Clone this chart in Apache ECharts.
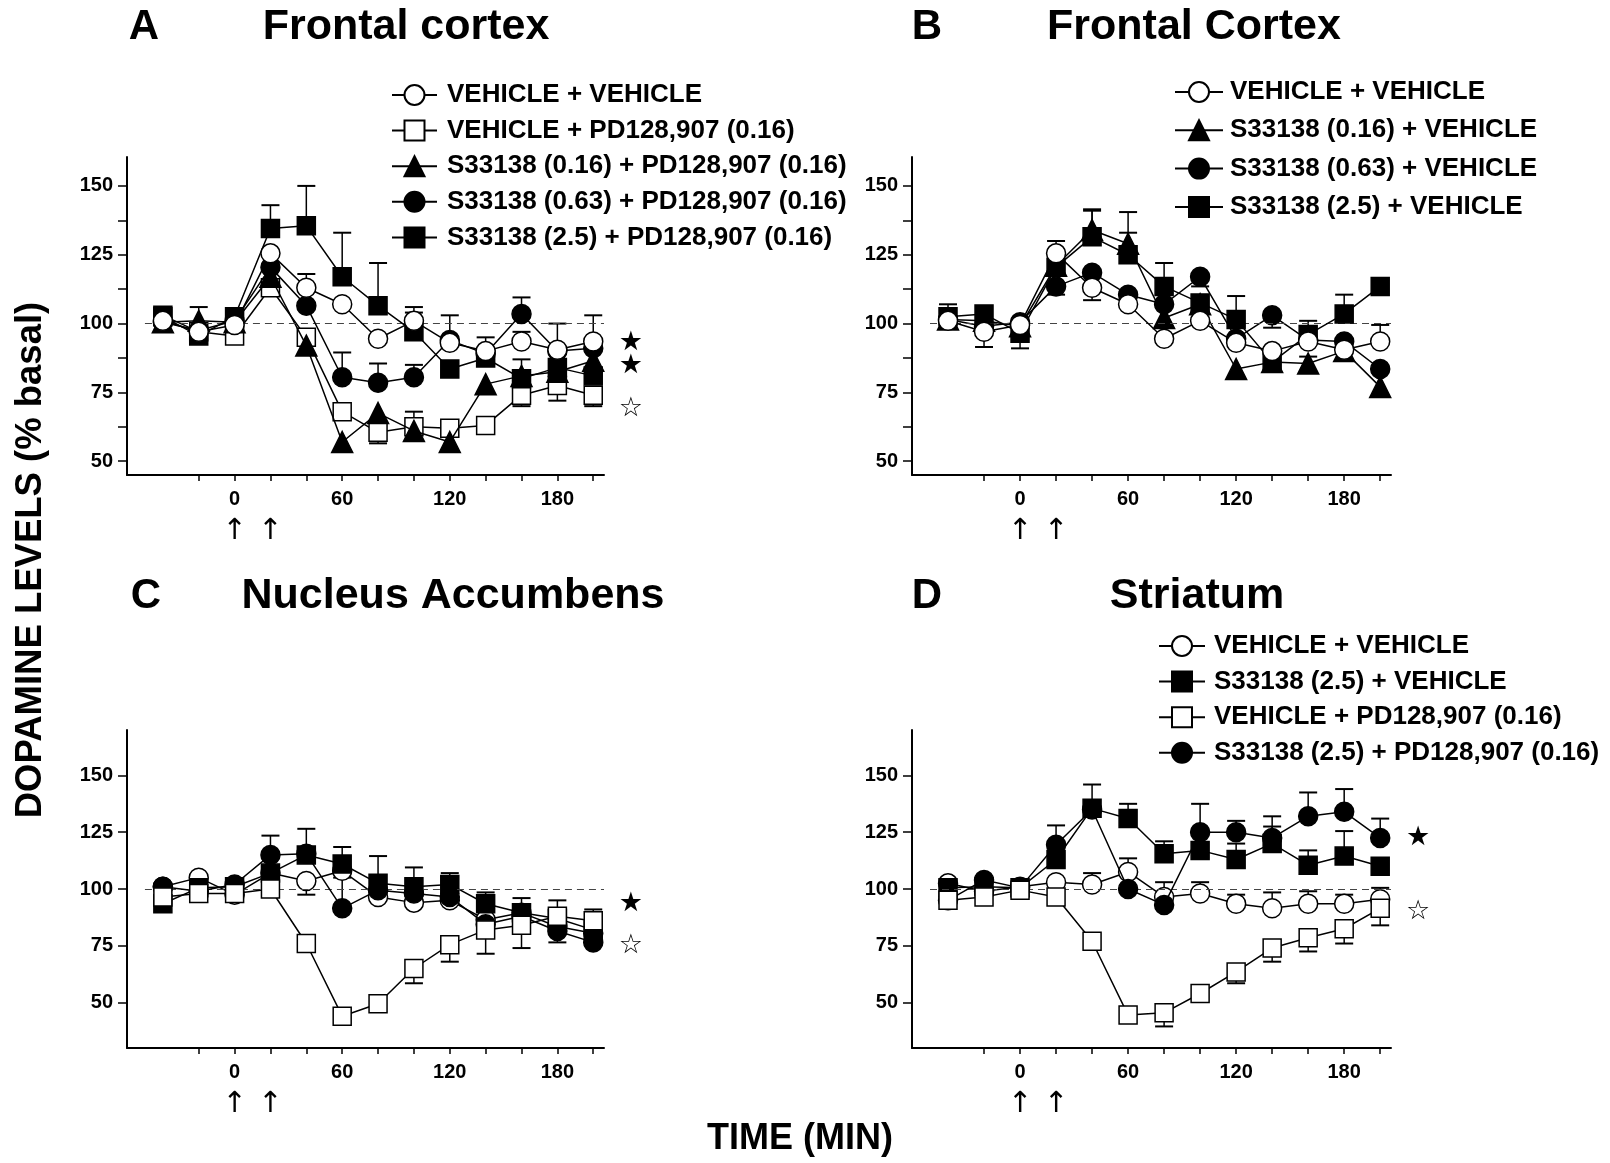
<!DOCTYPE html>
<html><head><meta charset="utf-8">
<script src="https://cdn.jsdelivr.net/npm/echarts@6/dist/echarts.min.js"></script>
<style>html,body{margin:0;padding:0;background:#fff}#c{width:1610px;height:1163px}</style>
</head><body><div id="c"></div>
<script>
// ---------- data ----------
const TIME = [-40, -20, 0, 20, 40, 60, 80, 100, 120, 140, 160, 180, 200];
const X_TICKS = [-20, 0, 20, 40, 60, 80, 100, 120, 140, 160, 180, 200];
const X_LABELS = [0, 60, 120, 180];
const Y_LABELS = [50, 75, 100, 125, 150];
const Y_TICKS_AB = [50, 62.5, 75, 87.5, 100, 112.5, 125, 137.5, 150];
const Y_TICKS_CD = [50, 75, 100, 125, 150];
const ARROW_TIMES = [0, 20];

const PANEL_TITLES = ['Frontal cortex', 'Frontal Cortex', 'Nucleus Accumbens', 'Striatum'];
const PANEL_LETTERS = ['A', 'B', 'C', 'D'];

const NAME_VV = 'VEHICLE + VEHICLE';
const NAME_VP = 'VEHICLE + PD128,907 (0.16)';
const NAME_S016_PD = 'S33138 (0.16) + PD128,907 (0.16)';
const NAME_S063_PD = 'S33138 (0.63) + PD128,907 (0.16)';
const NAME_S25_PD = 'S33138 (2.5) + PD128,907 (0.16)';
const NAME_S016_V = 'S33138 (0.16) + VEHICLE';
const NAME_S063_V = 'S33138 (0.63) + VEHICLE';
const NAME_S25_V = 'S33138 (2.5) + VEHICLE';

// Panel A
const A_VEH_VEH = [101, 97, 99.5, 125.5, 113, 107, 94.5, 101, 93, 90, 93.5, 90.5, 93.5];
const A_VEH_PD = [103, 97, 95.5, 113, 95, 68, 60.5, 62.5, 62, 63, 74, 77.5, 74];
const A_S016_PD = [100.5, 101, 100.5, 117, 92, 57, 67.5, 61, 57, 78, 81, 82.5, 86.5];
const A_S063_PD = [100.5, 97.5, 101, 120.5, 106.5, 80.5, 78.5, 80.5, 94, 89, 103.5, 90, 91];
const A_S25_PD = [102.5, 95.5, 102.5, 134.5, 135.5, 117, 106.5, 97, 83.5, 87.5, 80, 84, 81];
const A_VEH_VEH_ERR = [null, null, null, null, 118, null, null, 106, 103, 95, 97, 100, 103];
const A_VEH_PD_ERR = [null, null, null, null, null, null, 56.5, null, null, null, 70, 72, 70];
const A_S016_PD_ERR = [null, 106, null, null, null, null, null, 68, 64.5, null, 87, null, null];
const A_S063_PD_ERR = [null, null, null, null, null, 89.5, 85.5, 85, null, null, 109.5, null, null];
const A_S25_PD_ERR = [null, null, null, 143, 150, 133, 122, 104, null, null, null, null, null];

// Panel B
const B_VEH_VEH = [101, 97, 99.5, 125.5, 113, 107, 94.5, 101, 93, 90, 93.5, 90.5, 93.5];
const B_S016_VEH = [101.5, 101, 99, 121, 134, 129, 102, 107, 83.5, 86, 85.5, 90, 77];
const B_S063_VEH = [101.5, 99, 100.5, 113.5, 118.5, 110.5, 107, 117, 94.5, 103, 94, 93.5, 83.5];
const B_S25_VEH = [102.5, 103.5, 96.5, 120.5, 131.5, 125, 113.5, 107.5, 101.5, 86, 96, 103.5, 113.5];
const B_VEH_VEH_ERR = [null, 91.5, null, 130, 108.5, null, null, null, null, null, null, null, 99.5];
const B_S016_VEH_ERR = [null, null, null, null, 141.5, 140.5, null, null, null, null, 88, null, null];
const B_S063_VEH_ERR = [null, null, null, 110.5, null, null, null, 113.5, null, 98.5, null, null, null];
const B_S25_VEH_ERR = [107, null, 91, null, 141, 133, 122, null, 110, null, 101, 110.5, null];

// Panel C
const C_VEH_VEH = [101, 105, 97.5, 107, 103.5, 108, 96.5, 94, 95, 86.5, 89.5, 83.5, 80.5];
const C_S25_VEH = [93.5, 100.5, 101, 107, 115, 111, 102.5, 101, 102, 93.5, 89.5, 87, 82];
const C_VEH_PD = [96.5, 98, 98, 100, 76, 44, 49.5, 65, 75.5, 82, 84, 88, 86];
const C_S25_PD = [101, 99, 102, 115, 115.5, 91.5, 99.5, 98, 96.5, 84.5, 88, 81.5, 76.5];
const C_VEH_VEH_ERR = [null, null, null, null, 97.5, null, null, null, null, null, null, null, null];
const C_S25_VEH_ERR = [null, null, null, null, 126.5, 118.5, 114.5, 109.5, 107, 98.5, 96, 95, 91];
const C_VEH_PD_ERR = [null, null, null, null, null, null, null, 58.5, 68, 71.5, 74, null, null];
const C_S25_PD_ERR = [null, null, null, 123.5, null, 105, null, null, null, null, null, 76.5, null];

// Panel D
const D_VEH_VEH = [102.5, 99, 101, 103, 102, 107.5, 96.5, 98, 93.5, 91.5, 93.5, 93.5, 95.5];
const D_S25_VEH = [100.5, 101, 100.5, 113, 135.5, 131, 115.5, 117, 113, 120, 110.5, 114.5, 110];
const D_VEH_PD = [95, 96.5, 99.5, 96.5, 77, 44.5, 45.5, 54, 63.5, 74, 78.5, 82.5, 91.5];
const D_S25_PD = [95, 104, 100.5, 119.5, 135, 100, 93, 125, 125, 122.5, 132, 134, 122.5];
const D_VEH_VEH_ERR = [null, null, null, null, 107, 113.5, 103, 103, 97.5, 98.5, 99, 97.5, 100.5];
const D_S25_VEH_ERR = [null, null, null, null, 146, 137.5, 121, null, 120, 127.5, 117, 125.5, null];
const D_VEH_PD_ERR = [null, null, null, null, null, null, 39.5, null, 58.5, 68, 72.5, 76, 84];
const D_S25_PD_ERR = [null, null, null, 128, null, null, null, 137.5, 130, 132, 142.5, 144, 131];

// significance stars (annotation: [value level, filled?])
const STARS = [
  [[93, true], [84.5, true], [69, false]],
  [],
  [[93.5, true], [75, false]],
  [[122.5, true], [90, false]]
];

// ---------- style ----------
const FONT = "'Liberation Sans', Arial, Helvetica, sans-serif";
const MARK = {
  openCircle: { symbol: 'circle', fill: '#fff', size: 19 },
  fillCircle: { symbol: 'circle', fill: '#000', size: 19 },
  openSquare: { symbol: 'rect', fill: '#fff', size: 18 },
  fillSquare: { symbol: 'rect', fill: '#000', size: 18 },
  fillTri: { symbol: 'triangle', fill: '#000', size: 21 }
};

const P = [
  { yMin: 45, yMax: 160.5, yTicks: Y_TICKS_AB,
    legendNames: [NAME_VV, NAME_VP, NAME_S016_PD, NAME_S063_PD, NAME_S25_PD],
    series: [
      [NAME_VP, A_VEH_PD, A_VEH_PD_ERR, 'openSquare'],
      [NAME_S016_PD, A_S016_PD, A_S016_PD_ERR, 'fillTri'],
      [NAME_S063_PD, A_S063_PD, A_S063_PD_ERR, 'fillCircle'],
      [NAME_S25_PD, A_S25_PD, A_S25_PD_ERR, 'fillSquare'],
      [NAME_VV, A_VEH_VEH, A_VEH_VEH_ERR, 'openCircle']
    ]},
  { yMin: 45, yMax: 160.5, yTicks: Y_TICKS_AB,
    legendNames: [NAME_VV, NAME_S016_V, NAME_S063_V, NAME_S25_V],
    series: [
      [NAME_S016_V, B_S016_VEH, B_S016_VEH_ERR, 'fillTri'],
      [NAME_S063_V, B_S063_VEH, B_S063_VEH_ERR, 'fillCircle'],
      [NAME_S25_V, B_S25_VEH, B_S25_VEH_ERR, 'fillSquare'],
      [NAME_VV, B_VEH_VEH, B_VEH_VEH_ERR, 'openCircle']
    ]},
  { yMin: 30, yMax: 170, yTicks: Y_TICKS_CD, legendNames: null,
    series: [
      [NAME_VV, C_VEH_VEH, C_VEH_VEH_ERR, 'openCircle'],
      [NAME_S25_V, C_S25_VEH, C_S25_VEH_ERR, 'fillSquare'],
      [NAME_S25_PD, C_S25_PD, C_S25_PD_ERR, 'fillCircle'],
      [NAME_VP, C_VEH_PD, C_VEH_PD_ERR, 'openSquare']
    ]},
  { yMin: 30, yMax: 170, yTicks: Y_TICKS_CD,
    legendNames: [NAME_VV, NAME_S25_V, NAME_VP, NAME_S25_PD],
    series: [
      [NAME_VV, D_VEH_VEH, D_VEH_VEH_ERR, 'openCircle'],
      [NAME_S25_V, D_S25_VEH, D_S25_VEH_ERR, 'fillSquare'],
      [NAME_S25_PD, D_S25_PD, D_S25_PD_ERR, 'fillCircle'],
      [NAME_VP, D_VEH_PD, D_VEH_PD_ERR, 'openSquare']
    ]}
];

const GRIDS = [
  { left: 127, top: 157, width: 477, height: 318 },
  { left: 912, top: 157, width: 479, height: 318 },
  { left: 127, top: 730, width: 477, height: 318 },
  { left: 912, top: 730, width: 479, height: 318 }
];
const LEGENDS = [
  { left: 391, top: 82, itemWidth: 45, itemGap: 9.6, pad: 5 },
  { left: 1174, top: 79, itemWidth: 48, itemGap: 12.3, pad: 2 },
  null,
  { left: 1158, top: 633, itemWidth: 46, itemGap: 9.6, pad: 4 }
];

const chart = echarts.init(document.getElementById('c'));

const grid = GRIDS.map(g => Object.assign({ containLabel: false, outerBoundsMode: 'none' }, g));
const xAxis = [], yAxis = [], series = [], legend = [];

P.forEach((p, i) => {
  xAxis.push({
    gridIndex: i, type: 'value', min: -60, max: 206,
    axisLine: { show: true, onZero: false, lineStyle: { color: '#000', width: 2 } },
    axisTick: { show: true, customValues: X_TICKS, length: 6, lineStyle: { color: '#000', width: 1.5 } },
    axisLabel: { show: true, customValues: X_LABELS, margin: 14, fontSize: 20, fontWeight: 'bold', color: '#000', fontFamily: FONT },
    splitLine: { show: false }
  });
  yAxis.push({
    gridIndex: i, type: 'value', min: p.yMin, max: p.yMax,
    axisLine: { show: true, onZero: false, lineStyle: { color: '#000', width: 2 } },
    axisTick: { show: true, customValues: p.yTicks, length: 9, lineStyle: { color: '#000', width: 1.5 } },
    axisLabel: { show: true, customValues: Y_LABELS, margin: 14, fontSize: 20, fontWeight: 'bold', color: '#000', fontFamily: FONT },
    splitLine: { show: false }
  });
  const errData = [];
  p.series.forEach((s, k) => {
    const [name, vals, errs, mk] = s;
    const m = MARK[mk];
    vals.forEach((v, j) => { if (errs[j] != null) errData.push([TIME[j], v, errs[j]]); });
    const ser = {
      type: 'line', name: PANEL_LETTERS[i] + ':' + name,
      xAxisIndex: i, yAxisIndex: i,
      data: TIME.map((t, j) => [t, vals[j]]),
      symbol: m.symbol, symbolSize: m.size, showAllSymbol: true,
      lineStyle: { color: '#000', width: 1.5 },
      itemStyle: { color: m.fill, borderColor: '#000', borderWidth: 1.5, opacity: 1 },
      emphasis: { disabled: true }, z: 3 + k, animation: false, clip: false
    };
    if (k === 0) {
      ser.markLine = {
        silent: true, symbol: ['none', 'none'], label: { show: false }, animation: false,
        lineStyle: { type: [7, 5], color: '#444', width: 1.2 },
        emphasis: { disabled: true },
        data: [[{ coord: [-50, 100] }, { coord: [206, 100] }]]
      };
    }
    series.push(ser);
  });
  series.push({
    type: 'custom', xAxisIndex: i, yAxisIndex: i, z: 2, silent: true, animation: false,
    data: errData,
    renderItem: (params, api) => {
      const x = api.value(0), y = api.value(1), c = api.value(2);
      const p1 = api.coord([x, y]), p2 = api.coord([x, c]);
      return { type: 'group', children: [
        { type: 'line', shape: { x1: p1[0], y1: p1[1], x2: p2[0], y2: p2[1] }, style: { stroke: '#000', lineWidth: 1.5 } },
        { type: 'line', shape: { x1: p2[0] - 9, y1: p2[1], x2: p2[0] + 9, y2: p2[1] }, style: { stroke: '#000', lineWidth: 2 } }
      ]};
    }
  });
  if (p.legendNames) {
    const L = LEGENDS[i];
    legend.push({
      orient: 'vertical', left: L.left, top: L.top, padding: 0,
      itemWidth: L.itemWidth, itemHeight: 25, itemGap: L.itemGap,
      selectedMode: false,
      textStyle: { fontSize: 26, fontWeight: 'bold', color: '#000', fontFamily: FONT, lineHeight: 25, padding: [0, 0, 0, L.pad] },
      data: p.legendNames.map(n => PANEL_LETTERS[i] + ':' + n),
      formatter: n => n.slice(2)
    });
  }
});

chart.setOption({
  animation: false, backgroundColor: '#fff',
  grid, xAxis, yAxis, series, legend
});

// ---------- annotations ----------
const graphic = [];
const TITLE_POS = [
  { lx: 144, tx: 406, y: 27 }, { lx: 927, tx: 1194, y: 27 },
  { lx: 146, tx: 453, y: 596 }, { lx: 927, tx: 1197, y: 596 }
];
TITLE_POS.forEach((t, i) => {
  graphic.push({ type: 'text', x: t.lx, y: t.y, style: { text: PANEL_LETTERS[i], font: 'bold 42px ' + FONT, fill: '#000', textAlign: 'center', textVerticalAlign: 'middle' } });
  graphic.push({ type: 'text', x: t.tx, y: t.y, style: { text: PANEL_TITLES[i], font: 'bold 43px ' + FONT, fill: '#000', textAlign: 'center', textVerticalAlign: 'middle' } });
});
graphic.push({ type: 'text', x: 31, y: 560, rotation: Math.PI / 2, style: { text: 'DOPAMINE LEVELS (% basal)', font: 'bold 36.5px ' + FONT, fill: '#000', textAlign: 'center', textVerticalAlign: 'middle' } });
graphic.push({ type: 'text', x: 800, y: 1139, style: { text: 'TIME (MIN)', font: 'bold 36px ' + FONT, fill: '#000', textAlign: 'center', textVerticalAlign: 'middle' } });

P.forEach((p, i) => {
  const g = GRIDS[i];
  ARROW_TIMES.forEach(t => {
    const px = chart.convertToPixel({ gridIndex: i }, [t, 100]);
    graphic.push({ type: 'text', x: px[0], y: g.top + g.height + 56, style: { text: '\u2191', font: '29px "DejaVu Sans"', fill: '#000', textAlign: 'center', textVerticalAlign: 'middle' } });
  });
  STARS[i].forEach(st => {
    const px = chart.convertToPixel({ gridIndex: i }, [221, st[0]]);
    graphic.push({ type: 'text', x: px[0], y: px[1], style: { text: st[1] ? '\u2605' : '\u2606', font: '27px "DejaVu Sans"', fill: '#000', textAlign: 'center', textVerticalAlign: 'middle' } });
  });
});
chart.setOption({ graphic });
</script>
</body></html>
